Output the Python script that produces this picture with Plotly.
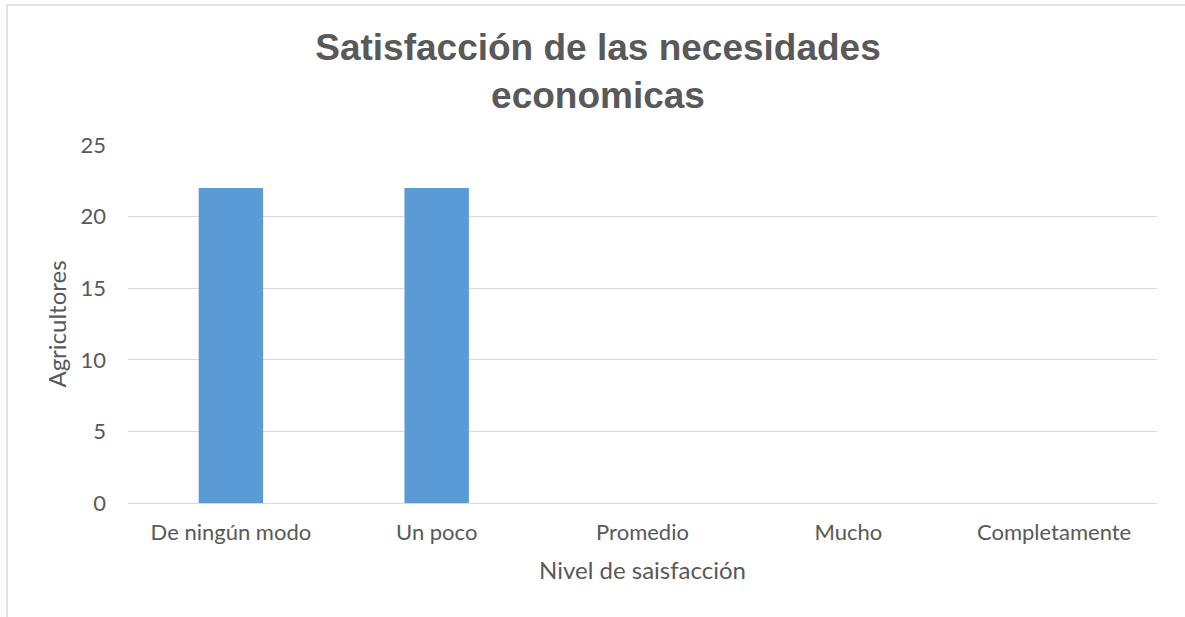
import plotly.graph_objects as go

# Survey results: farmers per satisfaction level
categories = ["De ningún modo", "Un poco", "Promedio", "Mucho", "Completamente"]
farmers = [22, 22, 0, 0, 0]
y_ticks = [0, 5, 10, 15, 20, 25]

TEXT = "#595959"
GRID = "#d9d9d9"

fig = go.Figure(
    go.Bar(
        x=categories,
        y=farmers,
        width=0.313,
        marker=dict(color="#5b9bd5", line=dict(width=0)),
    )
)

fig.update_layout(
    width=1185,
    height=617,
    margin=dict(l=128, r=28, t=145, b=114),
    paper_bgcolor="white",
    plot_bgcolor="white",
    showlegend=False,
    font=dict(family="Lato", color=TEXT, size=22),
    title=dict(
        text="<b>Satisfacción de las necesidades<br>economicas</b>",
        x=598 / 1185,
        xanchor="center",
        y=1 - 60 / 617,
        yanchor="middle",
        font=dict(family="Liberation Sans", size=37, color=TEXT),
    ),
    xaxis=dict(
        title=dict(text="Nivel de saisfacción", standoff=18, font=dict(size=24)),
        showgrid=False,
        showline=False,
        ticks="",
        ticklabelstandoff=14,
        tickfont=dict(size=22),
    ),
    yaxis=dict(
        title=dict(text="Agricultores", standoff=7, font=dict(size=24)),
        range=[0, 25],
        tickvals=y_ticks,
        showgrid=True,
        gridcolor=GRID,
        gridwidth=1.3,
        zeroline=True,
        zerolinecolor=GRID,
        zerolinewidth=1.3,
        showline=False,
        ticks="",
        ticklabelstandoff=21,
        tickfont=dict(size=22),
    ),
    shapes=[
        dict(
            type="rect",
            xref="paper",
            yref="paper",
            x0=(7 - 128) / 1029,
            x1=1.2,
            y0=-0.6,
            y1=(503 - 5) / 358,
            line=dict(color=GRID, width=1.5),
            fillcolor="rgba(0,0,0,0)",
            layer="below",
        )
    ],
)

fig.write_html("out.html")
